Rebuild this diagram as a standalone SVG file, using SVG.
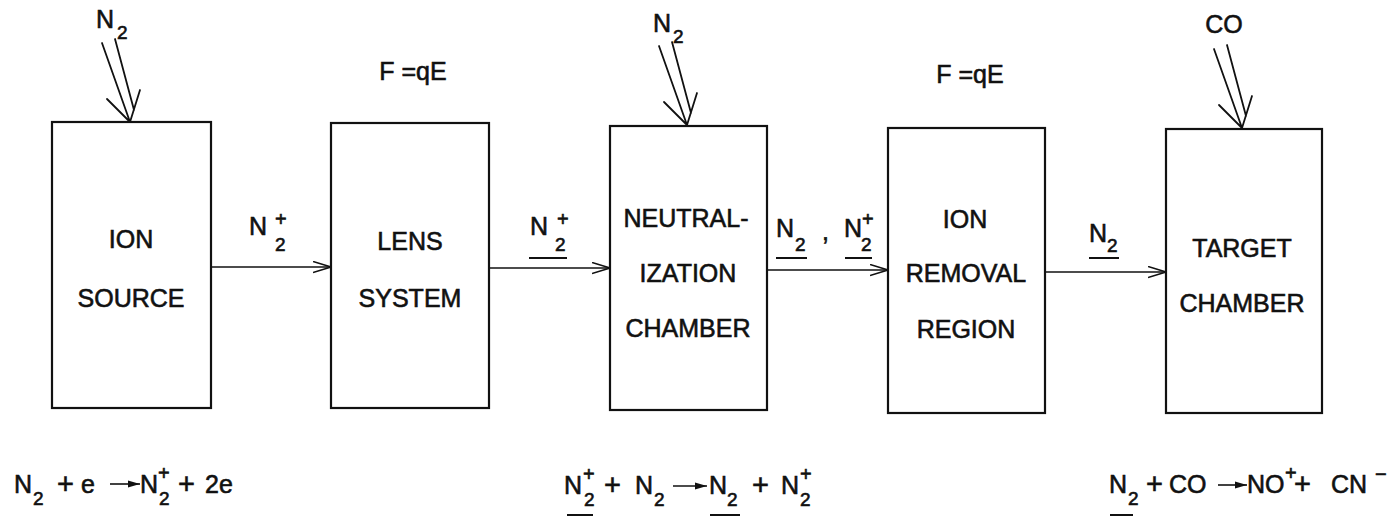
<svg xmlns="http://www.w3.org/2000/svg" xmlns:xlink="http://www.w3.org/1999/xlink" width="1391" height="522" viewBox="0 0 1391 522">
<style>
text{font-family:"Liberation Sans",Arial,sans-serif;fill:#111;stroke:#111;stroke-width:0.6;}
.lbl{font-size:25px;text-anchor:middle;}
.t{font-size:25px;}
.op{font-size:29px;}
.sub{font-size:19px;}
.sup{font-size:20px;}
.box{fill:#fff;stroke:#111;stroke-width:2.2;}
.conn{stroke:#111;stroke-width:1.6;fill:none;}
.ul{stroke:#111;stroke-width:2;}
.feed{stroke:#111;stroke-width:1.8;fill:none;stroke-linecap:round;stroke-linejoin:round;}
</style>
<defs>
<marker id="open" markerUnits="userSpaceOnUse" markerWidth="20" markerHeight="14" refX="18" refY="6" orient="auto">
<path d="M0,0.5 L18,6 L0,11.5" fill="none" stroke="#111" stroke-width="1.6"/>
</marker>
<marker id="solid" markerUnits="userSpaceOnUse" markerWidth="14" markerHeight="10" refX="12" refY="4" orient="auto">
<path d="M0,0.5 L12,4 L0,7.5 Z" fill="#111"/>
</marker>
<g id="feedarrow">
<path class="feed" d="M-28,-79 L0,0 M-15,-83 L4,-12 M-23,-23 L0,0 L10,-32"/>
</g>
</defs>
<rect width="1391" height="522" fill="#fff"/>

<g id="connectors">
<line class="conn" x1="211" y1="267" x2="331" y2="267" marker-end="url(#open)"/>
<line class="conn" x1="489" y1="268" x2="610" y2="268" marker-end="url(#open)"/>
<line class="conn" x1="767" y1="270" x2="888" y2="270" marker-end="url(#open)"/>
<line class="conn" x1="1045" y1="272" x2="1166" y2="272" marker-end="url(#open)"/>
<use xlink:href="#feedarrow" transform="translate(130,122)"/>
<use xlink:href="#feedarrow" transform="translate(687,125)"/>
<use xlink:href="#feedarrow" transform="translate(1242,128)"/>
</g>

<g id="ion-source">
<rect class="box" x="52" y="122" width="159" height="286"/>
<text class="lbl" x="131" y="248">ION</text>
<text class="lbl" x="131" y="307">SOURCE</text>
</g>
<g id="lens-system">
<rect class="box" x="331" y="123" width="158" height="285"/>
<text class="lbl" x="410" y="250">LENS</text>
<text class="lbl" x="410" y="307">SYSTEM</text>
</g>
<g id="neutralization-chamber">
<rect class="box" x="610" y="126" width="157" height="284"/>
<text class="lbl" x="686" y="227">NEUTRAL-</text>
<text class="lbl" x="688" y="282">IZATION</text>
<text class="lbl" x="688" y="337">CHAMBER</text>
</g>
<g id="ion-removal-region">
<rect class="box" x="888" y="128" width="157" height="285"/>
<text class="lbl" x="965" y="228">ION</text>
<text class="lbl" x="966" y="282">REMOVAL</text>
<text class="lbl" x="966" y="338">REGION</text>
</g>
<g id="target-chamber">
<rect class="box" x="1166" y="129" width="156" height="284"/>
<text class="lbl" x="1242" y="257">TARGET</text>
<text class="lbl" x="1242" y="312">CHAMBER</text>
</g>

<g id="feed-labels">
<text class="t" x="96" y="28">N</text><text class="sub" x="117" y="39">2</text>
<text class="t" x="653" y="32">N</text><text class="sub" x="673" y="43">2</text>
<text class="lbl" x="1224" y="33">CO</text>
<text class="lbl" x="413" y="80">F =qE</text>
<text class="lbl" x="970" y="83">F =qE</text>
</g>

<g id="beam-labels">
<text class="t" x="249" y="235">N</text><text class="sup" x="275" y="226">+</text><text class="sub" x="275" y="251">2</text>
<text class="t" x="530" y="235">N</text><text class="sup" x="557" y="226">+</text><text class="sub" x="555" y="251">2</text>
<line class="ul" x1="529" y1="258" x2="567" y2="258"/>
<text class="t" x="776" y="237">N</text><text class="sub" x="795" y="251">2</text>
<line class="ul" x1="776" y1="258" x2="807" y2="258"/>
<text class="t" x="822" y="240">,</text>
<text class="t" x="844" y="237">N</text><text class="sup" x="862" y="226">+</text><text class="sub" x="861" y="251">2</text>
<line class="ul" x1="845" y1="258" x2="872" y2="258"/>
<text class="t" x="1089" y="242">N</text><text class="sub" x="1107" y="252">2</text>
<line class="ul" x1="1089" y1="258" x2="1119" y2="258"/>
</g>

<g id="equations">
<text class="t" x="14" y="493">N</text><text class="sub" x="33" y="505">2</text>
<text class="op" x="57" y="494">+</text>
<text class="t" x="81" y="493">e</text>
<line class="conn" x1="110" y1="484" x2="140" y2="484" marker-end="url(#solid)"/>
<text class="t" x="140" y="493">N</text><text class="sup" x="158" y="480">+</text><text class="sub" x="159" y="505">2</text>
<text class="op" x="178" y="494">+</text>
<text class="t" x="205" y="493">2e</text>

<text class="t" x="564" y="494">N</text><text class="sup" x="583" y="481">+</text><text class="sub" x="584" y="506">2</text>
<line class="ul" x1="567" y1="515" x2="593" y2="515"/>
<text class="op" x="604" y="495">+</text>
<text class="t" x="635" y="494">N</text><text class="sub" x="654" y="506">2</text>
<line class="conn" x1="673" y1="486" x2="707" y2="486" marker-end="url(#solid)"/>
<text class="t" x="709" y="494">N</text><text class="sub" x="727" y="506">2</text>
<line class="ul" x1="710" y1="515" x2="740" y2="515"/>
<text class="op" x="752" y="495">+</text>
<text class="t" x="781" y="494">N</text><text class="sup" x="800" y="481">+</text><text class="sub" x="800" y="506">2</text>

<text class="t" x="1109" y="493">N</text><text class="sub" x="1128" y="505">2</text>
<line class="ul" x1="1110" y1="515" x2="1133" y2="515"/>
<text class="op" x="1146" y="494">+</text>
<text class="t" x="1169" y="493">CO</text>
<line class="conn" x1="1218" y1="485" x2="1247" y2="485" marker-end="url(#solid)"/>
<text class="t" x="1247" y="493">NO</text><text class="sup" x="1285" y="480">+</text>
<text class="op" x="1294" y="494">+</text>
<text class="t" x="1331" y="493">CN</text><text class="sup" x="1375" y="481">−</text>
</g>
</svg>
